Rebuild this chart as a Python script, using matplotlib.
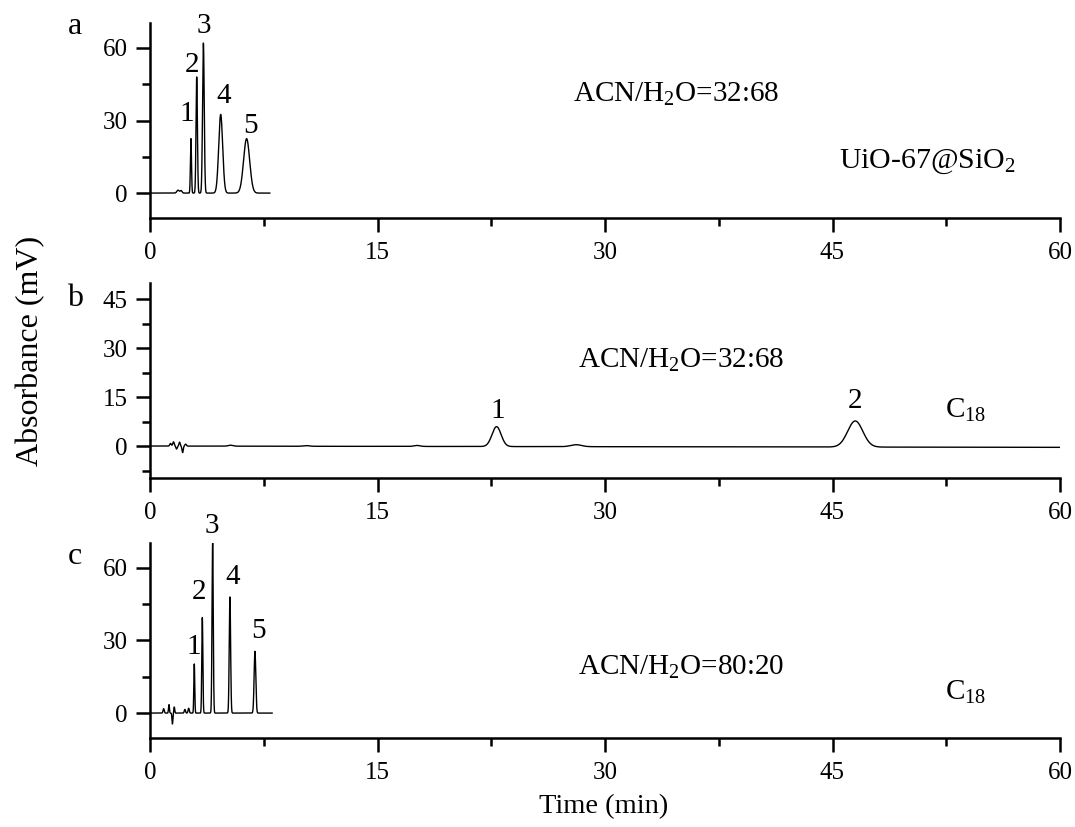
import numpy as np
import matplotlib
matplotlib.use("Agg")
import matplotlib.pyplot as plt
from matplotlib.ticker import MultipleLocator

plt.rcParams['font.family'] = ['Liberation Serif', 'DejaVu Serif']
plt.rcParams['mathtext.fontset'] = 'custom'
plt.rcParams['mathtext.rm'] = 'Liberation Serif'
plt.rcParams['mathtext.it'] = 'Liberation Serif:italic'

# ---- peak tables (retention time min, height mV, sigma min)
a_times = [1.85, 2.05, 2.70, 3.08, 3.52, 4.66, 6.37]
a_heights = [1.2, 1.0, 22.5, 48.0, 62.0, 32.5, 22.5]
a_sigmas = [0.08, 0.06, 0.035, 0.045, 0.055, 0.13, 0.20]
a_end = 7.9

b_times = [1.35, 1.55, 1.75, 1.95, 2.15, 2.35, 5.3, 10.3, 17.6, 22.85, 28.1, 46.5]
b_heights = [0.8, 1.3, -0.9, 1.2, -2.0, 0.6, 0.3, 0.2, 0.3, 6.1, 0.6, 8.0]
b_sigmas = [0.05, 0.05, 0.04, 0.04, 0.04, 0.05, 0.15, 0.2, 0.2, 0.30, 0.35, 0.50]
b_drift = -0.4  # baseline level at 60 min

c_times = [0.90, 1.25, 1.48, 1.60, 2.30, 2.55, 2.92, 3.45, 4.13, 5.27, 6.92]
c_heights = [1.8, 3.5, -4.5, 2.5, 1.5, 2.0, 20.3, 39.5, 70.5, 48.0, 25.5]
c_sigmas = [0.04, 0.03, 0.03, 0.03, 0.04, 0.04, 0.03, 0.035, 0.04, 0.045, 0.055]
c_end = 8.05

x_ticks = [0, 15, 30, 45, 60]

a_labels = ['1', '2', '3', '4', '5']
a_label_xy = [(2.43, 29.9), (2.77, 50.2), (3.56, 66.0), (4.85, 37.2), (6.6, 25.0)]
b_labels = ['1', '2']
b_label_xy = [(22.9, 8.6), (46.5, 11.6)]
c_labels = ['1', '2', '3', '4', '5']
c_label_xy = [(2.87, 24.4), (3.26, 47.2), (4.05, 74.5), (5.47, 53.4), (7.15, 31.0)]


def trace(times, heights, sigmas, t):
    y = np.zeros_like(t)
    for t0, h, s in zip(times, heights, sigmas):
        y += h * np.exp(-0.5 * ((t - t0) / s) ** 2)
    return y


fig = plt.figure(figsize=(10.75, 8.27), dpi=100)
L, W = 150 / 1075, 910 / 1075
ax_a = fig.add_axes([L, 1 - 218 / 827, W, 195 / 827])
ax_b = fig.add_axes([L, 1 - 478 / 827, W, 195 / 827])
ax_c = fig.add_axes([L, 1 - 738 / 827, W, 195 / 827])

ta = np.linspace(0, a_end, 3000)
ax_a.plot(ta, trace(a_times, a_heights, a_sigmas, ta), color='black', lw=1.0)
tb = np.linspace(0, 60, 12000)
ax_b.plot(tb, trace(b_times, b_heights, b_sigmas, tb) + b_drift * tb / 60,
          color='black', lw=1.0)
tc = np.linspace(0, c_end, 3000)
ax_c.plot(tc, trace(c_times, c_heights, c_sigmas, tc), color='black', lw=1.0)

ylims = [(-10.3, 70.3), (-9.8, 50.0), (-10.3, 70.3)]
ymaj = [30, 15, 30]
ymin_ = [15, 7.5, 15]
for ax, yl, mj, mn in zip([ax_a, ax_b, ax_c], ylims, ymaj, ymin_):
    ax.set_xlim(0, 60)
    ax.set_ylim(*yl)
    ax.set_xticks(x_ticks)
    ax.xaxis.set_minor_locator(MultipleLocator(7.5))
    ax.yaxis.set_major_locator(MultipleLocator(mj))
    ax.yaxis.set_minor_locator(MultipleLocator(mn))
    for s in ['top', 'right']:
        ax.spines[s].set_visible(False)
    for s in ['left', 'bottom']:
        ax.spines[s].set_linewidth(1.8)
    ax.tick_params(which='major', direction='out', length=10, width=1.8,
                   labelsize=18)
    ax.tick_params(axis='x', which='major', pad=7)
    ax.tick_params(axis='y', which='major', pad=6)
    ax.tick_params(which='minor', direction='out', length=6, width=1.8)
    ax.set_facecolor('none')

ax_b.set_yticks([0, 15, 30, 45])
ax_a.set_yticks([0, 30, 60])
ax_c.set_yticks([0, 30, 60])

pfs = 21
for lab, (x, y) in zip(a_labels, a_label_xy):
    ax_a.text(x, y, lab, fontsize=pfs, ha='center', va='baseline')
for lab, (x, y) in zip(b_labels, b_label_xy):
    ax_b.text(x, y, lab, fontsize=pfs, ha='center', va='baseline')
for lab, (x, y) in zip(c_labels, c_label_xy):
    ax_c.text(x, y, lab, fontsize=pfs, ha='center', va='baseline')

fs = 21
ax_a.text(27.9, 37.8, r'ACN/H$_{\mathregular{2}}$O=32:68', fontsize=fs, ha='left', va='baseline')
ax_a.text(45.4, 10.6, r'UiO-67@SiO$_{\mathregular{2}}$', fontsize=fs + 0.5, ha='left', va='baseline')
ax_b.text(28.2, 23.9, r'ACN/H$_{\mathregular{2}}$O=32:68', fontsize=fs, ha='left', va='baseline')
ax_b.text(52.4, 8.6, r'C$_{\mathregular{18}}$', fontsize=fs, ha='left', va='baseline')
ax_c.text(28.2, 15.7, r'ACN/H$_{\mathregular{2}}$O=80:20', fontsize=fs, ha='left', va='baseline')
ax_c.text(52.4, 5.4, r'C$_{\mathregular{18}}$', fontsize=fs, ha='left', va='baseline')

fig.text(75 / 1075, 1 - 27 / 827, 'a', fontsize=23, ha='center', va='center')
fig.text(75 / 1075, 1 - 299 / 827, 'b', fontsize=23, ha='center', va='center')
fig.text(75 / 1075, 1 - 557 / 827, 'c', fontsize=23, ha='center', va='center')
fig.text(31 / 1075, 1 - 351 / 827, 'Absorbance (mV)', fontsize=23, rotation=90,
         ha='center', va='center')
fig.text(604 / 1075, 1 - 807 / 827, 'Time (min)', fontsize=20.5, ha='center', va='center')

fig.savefig('out.png', dpi=100)
